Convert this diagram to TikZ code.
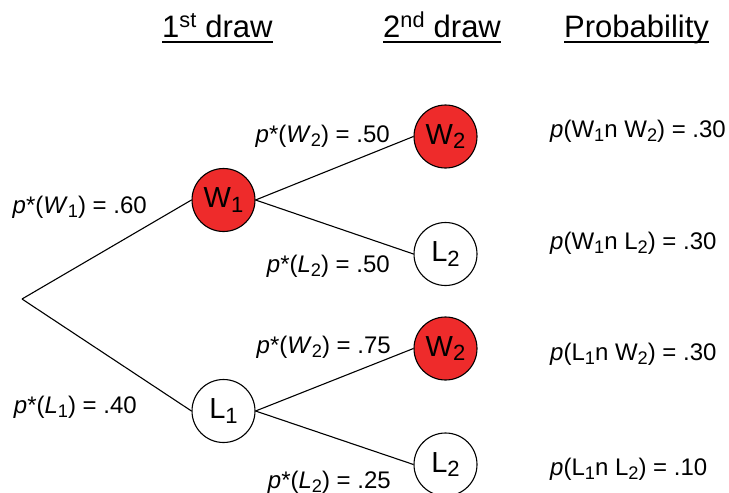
\documentclass[tikz,border=0pt]{standalone}
\usepackage{fontspec}
\setmainfont{Liberation Sans}
\definecolor{ballred}{RGB}{238,43,43}
\newcommand\lowsub[1]{\raisebox{-0.17em}{\scalebox{0.76}{#1}}}
\begin{document}
\begin{tikzpicture}[x=1pt,y=-1pt,
  ball/.style={circle,draw=black,line width=1.1pt,minimum size=63pt,inner sep=0pt,font=\fontsize{29}{32}\selectfont},
  win/.style={ball,fill=ballred},
  lose/.style={ball,fill=white},
  branch/.style={draw=black,line width=1.1pt},
  lbl/.style={inner sep=0pt,font=\fontsize{24}{28}\selectfont},
  head/.style={inner sep=0pt,anchor=base west,font=\fontsize{31}{36}\selectfont},
  uline/.style={draw=black,line width=2pt},
]
\useasboundingbox (0,0) rectangle (729,493);
% headers
\node[head] (h1) at (162,37) {1\textsuperscript{st} draw};
\node[head] (h2) at (383,37) {2\textsuperscript{nd} draw};
\node[head] (h3) at (564,37) {Probability};
\foreach \h in {h1,h2,h3}
  \draw[uline] ([yshift=-5pt]\h.base west) -- ([yshift=-5pt]\h.base east);
% tree
\coordinate (root) at (22,299);
\node[win]  (w1)  at (223.5,200) {W\lowsub{1}};
\node[lose] (l1)  at (223.5,411) {L\lowsub{1}};
\node[win]  (w2a) at (445.5,136.5) {W\lowsub{2}};
\node[lose] (l2a) at (445.5,254) {L\lowsub{2}};
\node[win]  (w2b) at (445.5,348.5) {W\lowsub{2}};
\node[lose] (l2b) at (445.5,464.5) {L\lowsub{2}};
\draw[branch] (root) -- (w1.west);
\draw[branch] (root) -- (l1.west);
\draw[branch] (w1.east) -- (w2a.west);
\draw[branch] (w1.east) -- (l2a.west);
\draw[branch] (l1.east) -- (w2b.west);
\draw[branch] (l1.east) -- (l2b.west);
% branch labels
\node[lbl,anchor=base east] (pw1) at (147,213) {\textit{p}*(\textit{W}\lowsub{1}) = .60};
\node[lbl,anchor=base east] (pl1) at (137,413) {\textit{p}*(\textit{L}\lowsub{1}) = .40};
\node[lbl,anchor=base east] (pw2a) at (390,142) {\textit{p}*(\textit{W}\lowsub{2}) = .50};
\node[lbl,anchor=base east] (pl2a) at (390,272) {\textit{p}*(\textit{L}\lowsub{2}) = .50};
\node[lbl,anchor=base east] (pw2b) at (391,353) {\textit{p}*(\textit{W}\lowsub{2}) = .75};
\node[lbl,anchor=base east] (pl2b) at (391,488) {\textit{p}*(\textit{L}\lowsub{2}) = .25};
% joint probabilities
\node[lbl,anchor=base west] (j1) at (550,137) {\textit{p}(W\lowsub{1}n W\lowsub{2}) = .30};
\node[lbl,anchor=base west] (j2) at (550,249) {\textit{p}(W\lowsub{1}n L\lowsub{2}) = .30};
\node[lbl,anchor=base west] (j3) at (550,360) {\textit{p}(L\lowsub{1}n W\lowsub{2}) = .30};
\node[lbl,anchor=base west] (j4) at (550,475) {\textit{p}(L\lowsub{1}n L\lowsub{2}) = .10};
\end{tikzpicture}
\end{document}
